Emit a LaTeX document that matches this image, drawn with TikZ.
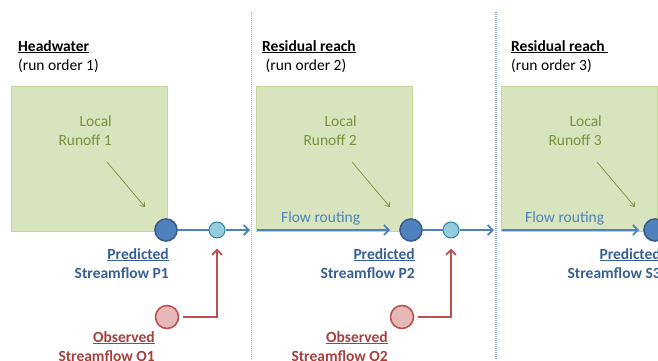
\documentclass[tikz,border=0pt]{standalone}
\usepackage{fontspec}
\setmainfont{Carlito}
\usetikzlibrary{arrows.meta}
\definecolor{gfill}{HTML}{D7E4BD}
\definecolor{gdraw}{HTML}{C3D69B}
\definecolor{gtext}{HTML}{76923C}
\definecolor{bline}{HTML}{4F81BD}
\definecolor{bdark}{HTML}{385D8A}
\definecolor{btext}{HTML}{376092}
\definecolor{tfill}{HTML}{93CDDD}
\definecolor{tdraw}{HTML}{31859C}
\definecolor{rline}{HTML}{C0504D}
\definecolor{rfill}{HTML}{E6B9B8}
\definecolor{rtext}{HTML}{A5403D}
\definecolor{sep}{HTML}{95B3D7}
\tikzset{
  basetxt/.style={font=\fontsize{15.5}{19}\selectfont, inner sep=0pt},
  head/.style={basetxt, anchor=base west, align=left},
  catch/.style={draw=gdraw, fill=gfill, line width=0.8pt},
  runoff/.style={basetxt, text=gtext, align=right, anchor=north east},
  garrow/.style={draw=gtext, line width=0.7pt, -{Straight Barb[length=4pt,width=6pt]}},
  bigc/.style={circle, draw=bdark, fill=bline, line width=1.6pt, minimum size=22pt, inner sep=0pt},
  smallc/.style={circle, draw=tdraw, fill=tfill, line width=1pt, minimum size=16pt, inner sep=0pt},
  redc/.style={circle, draw=rline, fill=rfill, line width=1.6pt, minimum size=23pt, inner sep=0pt},
  barrow/.style={draw=bline, line width=1.8pt, -{Straight Barb[length=5pt,width=10pt,line width=1.8pt]}},
  bline/.style={draw=bline, line width=1.8pt},
  rarrow/.style={draw=rline, line width=1.8pt, -{Straight Barb[length=5pt,width=10pt,line width=1.8pt]}},
  predlab/.style={basetxt, font=\fontsize{15.5}{19}\selectfont\bfseries, text=btext, align=right, anchor=north east},
  obslab/.style={basetxt, font=\fontsize{15.5}{19}\selectfont\bfseries, text=rtext, align=right, anchor=north east},
  routelab/.style={basetxt, text=bline, anchor=base west},
  sepline/.style={draw=sep, line width=1.3pt, dash pattern=on 1pt off 1pt},
}
\begin{document}
\begin{tikzpicture}[x=1pt,y=-1pt]
\useasboundingbox (0,0) rectangle (658,360);
% separators
\draw[sepline] (251.5,12) -- (251.5,360);
\draw[sepline] (496,12) -- (496,360);

% headings
\node[head] (h1) at (18,70) {\textbf{\underline{Headwater}}\\(run order 1)};
\node[head] (h2) at (262,70) {\textbf{\underline{Residual reach}}\\\ (run order 2)};
\node[head] (h3) at (511,70) {\textbf{\underline{Residual reach\ }}\\(run order 3)};

% catchment boxes
\node[catch, minimum width=156pt, minimum height=145pt, anchor=north west, inner sep=0pt] (c1) at (11,86) {};
\node[catch, minimum width=156pt, minimum height=145pt, anchor=north west, inner sep=0pt] (c2) at (256,86) {};
\node[catch, minimum width=156pt, minimum height=145pt, anchor=north west, inner sep=0pt] (c3) at (501,86) {};

\node[runoff] (r1) at (112,116) {Local\\Runoff 1};
\node[runoff] (r2) at (357,116) {Local\\Runoff 2};
\node[runoff] (r3) at (602,116) {Local\\Runoff 3};

% predicted & gauge nodes
\node[bigc] (p1) at (166,230) {};
\node[bigc] (p2) at (411,230) {};
\node[bigc] (p3) at (655,230) {};
\node[smallc] (s1) at (217,230) {};
\node[smallc] (s2) at (451,230) {};
\node[redc] (o1) at (167,317) {};
\node[redc] (o2) at (402,317) {};

\coordinate (e1) at (250,230);
\coordinate (e2) at (494,230);
\coordinate (b2) at (257,230);
\coordinate (b3) at (502,230);
\coordinate (g1a) at (107,162);
\coordinate (g1b) at (145,207);
\coordinate (g2a) at (352,162);
\coordinate (g2b) at (390,207);
\coordinate (g3a) at (597,162);
\coordinate (g3b) at (635,207);

% local runoff arrows
\draw[garrow] (g1a) -- (g1b);
\draw[garrow] (g2a) -- (g2b);
\draw[garrow] (g3a) -- (g3b);

% flow
\draw[bline] (p1) -- (s1);
\draw[barrow] (s1) -- (e1);
\draw[barrow, shorten >=9pt] (b2) -- (p2);
\draw[bline] (p2) -- (s2);
\draw[barrow] (s2) -- (e2);
\draw[barrow, shorten >=4pt] (b3) -- (p3);

% observed
\draw[rarrow, shorten <=4pt, shorten >=10pt] (o1) -| (s1);
\draw[rarrow, shorten <=4pt, shorten >=10pt] (o2) -| (s2);

% labels
\node[routelab] (f2) at (281,222) {Flow routing};
\node[routelab] (f3) at (525,222) {Flow routing};

\node[predlab] (l1) at (169,248) {\underline{Predicted}\\Streamflow P1};
\node[predlab] (l2) at (415,248) {\underline{Predicted}\\Streamflow P2};
\node[predlab] (l3) at (661,248) {\underline{Predicted}\\Streamflow S3};
\node[obslab] (m1) at (155,331) {\underline{Observed}\\Streamflow O1};
\node[obslab] (m2) at (388,331) {\underline{Observed}\\Streamflow O2};
\end{tikzpicture}
\end{document}
